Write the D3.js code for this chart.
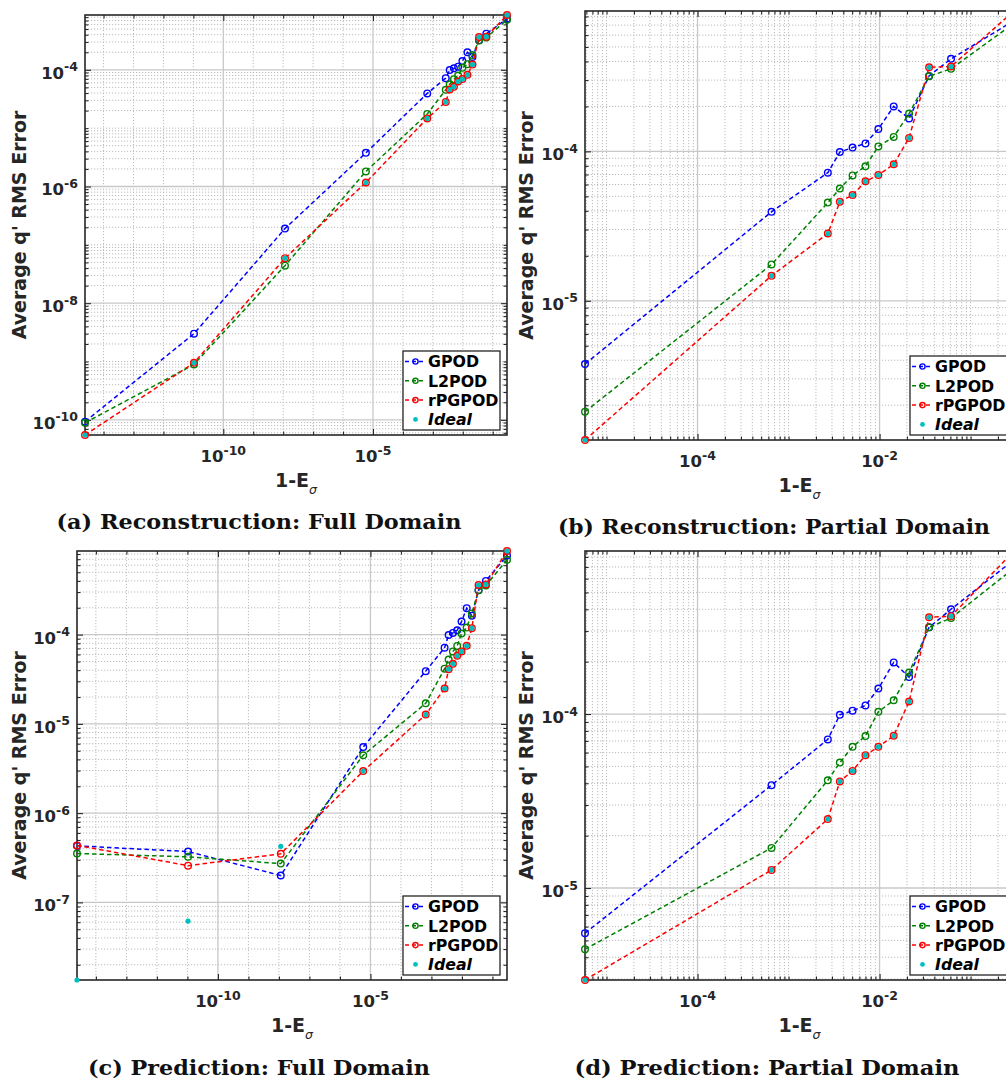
<!DOCTYPE html>
<html><head><meta charset="utf-8">
<script src="https://cdn.jsdelivr.net/npm/d3@7"></script>
<style>body{margin:0;background:#fff}</style>
</head><body>
<svg id="fig" width="1006" height="1082" xmlns="http://www.w3.org/2000/svg"></svg>
<script>
// ---------------- DATA ----------------
const energyLoss = [2.4e-15, 1.05e-11, 1.15e-8, 5.8e-6, 6.5e-4, 2.7e-3, 3.66e-3, 5.05e-3, 7.0e-3, 9.7e-3, 1.43e-2, 2.11e-2, 3.5e-2, 6.1e-2, 0.30];

const recGPOD   = [9.3e-11, 3.0e-9, 1.9e-7, 3.77e-6, 3.94e-5, 7.2e-5, 9.9e-5, 1.06e-4, 1.13e-4, 1.41e-4, 2.0e-4, 1.66e-4, 3.2e-4, 4.16e-4, 7.5e-4];
const recL2POD  = [8.9e-11, 8.9e-10, 4.4e-8, 1.81e-6, 1.75e-5, 4.54e-5, 5.64e-5, 6.9e-5, 7.95e-5, 1.08e-4, 1.25e-4, 1.79e-4, 3.18e-4, 3.57e-4, 7.2e-4];
const recRPGPOD = [5.5e-11, 9.5e-10, 5.9e-8, 1.17e-6, 1.47e-5, 2.82e-5, 4.6e-5, 5.1e-5, 6.3e-5, 6.95e-5, 8.2e-5, 1.23e-4, 3.65e-4, 3.7e-4, 8.7e-4];
const recIdeal  = [5.5e-11, 9.5e-10, 5.9e-8, 1.17e-6, 1.47e-5, 2.82e-5, 4.6e-5, 5.1e-5, 6.3e-5, 6.95e-5, 8.2e-5, 1.23e-4, 3.65e-4, 3.7e-4, 8.7e-4];

const predGPOD   = [4.3e-7, 3.71e-7, 2.0e-7, 5.5e-6, 3.9e-5, 7.15e-5, 9.9e-5, 1.045e-4, 1.12e-4, 1.4e-4, 1.98e-4, 1.63e-4, 3.15e-4, 4.0e-4, 7.7e-4];
const predL2POD  = [3.53e-7, 3.24e-7, 2.72e-7, 4.45e-6, 1.7e-5, 4.16e-5, 5.26e-5, 6.48e-5, 7.47e-5, 1.03e-4, 1.2e-4, 1.73e-4, 3.15e-4, 3.56e-4, 6.9e-4];
const predRPGPOD = [4.35e-7, 2.58e-7, 3.5e-7, 2.96e-6, 1.27e-5, 2.49e-5, 4.1e-5, 4.71e-5, 5.8e-5, 6.48e-5, 7.5e-5, 1.18e-4, 3.6e-4, 3.65e-4, 8.65e-4];
const predIdeal  = [1.35e-8, 6.17e-8, 4.25e-7, 2.96e-6, 1.27e-5, 2.49e-5, 4.1e-5, 4.71e-5, 5.8e-5, 6.48e-5, 7.5e-5, 1.18e-4, 3.6e-4, 3.65e-4, 8.65e-4];

const seriesNames = ["GPOD", "L2POD", "rPGPOD", "Ideal"];

const xTickExpFull    = [-10, -5];
const xTickExpPartial = [-4, -2];
const yTickExpA = [-10, -8, -6, -4];
const yTickExpB = [-5, -4];
const yTickExpC = [-7, -6, -5, -4];
const yTickExpD = [-5, -4];

const captions = ["(a) Reconstruction: Full Domain", "(b) Reconstruction: Partial Domain",
                  "(c) Prediction: Full Domain", "(d) Prediction: Partial Domain"];
const yLabelText = "Average q' RMS Error";

// ---------------- STYLE / LAYOUT ----------------
const colors = {GPOD: "#0000ff", L2POD: "#008000", rPGPOD: "#ff0000", Ideal: "#00bfbf"};
const AX = "#262626";

const panels = [
  {l: 85,  r: 507,  t: 15,  b: 435, start: 0, data: [recGPOD, recL2POD, recRPGPOD, recIdeal],
   xExp: xTickExpFull, xMinorMults: [1], yExp: yTickExpA, cap: captions[0], capX: 259, capY: 529, capW: 405, ylx: 26},
  {l: 585, r: 1014, t: 11,  b: 440, start: 3, data: [recGPOD, recL2POD, recRPGPOD, recIdeal],
   xExp: xTickExpPartial, xMinorMults: [1,2,3,4,5,6,7,8,9], yExp: yTickExpB, cap: captions[1], capX: 774, capY: 534, capW: 432, ylx: 533},
  {l: 77,  r: 507,  t: 551, b: 980, start: 0, data: [predGPOD, predL2POD, predRPGPOD, predIdeal],
   xExp: xTickExpFull, xMinorMults: [1], yExp: yTickExpC, cap: captions[2], capX: 259, capY: 1075, capW: 342, ylx: 26},
  {l: 585, r: 1014, t: 551, b: 980, start: 3, data: [predGPOD, predL2POD, predRPGPOD, predIdeal],
   xExp: xTickExpPartial, xMinorMults: [1,2,3,4,5,6,7,8,9], yExp: yTickExpD, cap: captions[3], capX: 767, capY: 1075, capW: 385, ylx: 533}
];

const svg = d3.select("#fig");
svg.append("rect").attr("width", 1006).attr("height", 1082).attr("fill", "#fff");

function minorValues(domain, mults, majorExps) {
  const lo = Math.floor(Math.log10(domain[0])), hi = Math.ceil(Math.log10(domain[1]));
  const out = [];
  for (let k = lo; k <= hi; k++) {
    for (const m of mults) {
      const v = m * Math.pow(10, k);
      if (v < domain[0] * 0.9999 || v > domain[1] * 1.0001) continue;
      if (m === 1 && majorExps.includes(k)) continue;
      out.push(v);
    }
  }
  return out;
}

function supLabel(sel, exp) {
  sel.append("tspan").text("10");
  sel.append("tspan").attr("dy", -7.5).attr("font-size", 12.5).text(String(exp));
}

function drawPanel(p) {
  const g = svg.append("g");
  const xs = energyLoss.slice(p.start);
  const ser = p.data.map(a => a.slice(p.start));
  const x = d3.scaleLog().domain(d3.extent(xs)).range([p.l, p.r]);
  const y = d3.scaleLog().domain(d3.extent(ser.flat())).range([p.b, p.t]);
  const xd = x.domain(), yd = y.domain();

  const xMaj = p.xExp.map(e => Math.pow(10, e));
  const yMaj = p.yExp.map(e => Math.pow(10, e));
  const xMin = minorValues(xd, p.xMinorMults, p.xExp);
  const yMin = minorValues(yd, [1,2,3,4,5,6,7,8,9], p.yExp);

  // minor grid (dotted)
  const grid = g.append("g");
  grid.selectAll(".gxm").data(xMin).join("line")
    .attr("x1", d => x(d)).attr("x2", d => x(d)).attr("y1", p.t).attr("y2", p.b)
    .attr("stroke", "#bcbcbc").attr("stroke-width", 1).attr("stroke-dasharray", "1.2,1.8");
  grid.selectAll(".gym").data(yMin).join("line")
    .attr("y1", d => y(d)).attr("y2", d => y(d)).attr("x1", p.l).attr("x2", p.r)
    .attr("stroke", "#bcbcbc").attr("stroke-width", 1).attr("stroke-dasharray", "1.2,1.8");
  // major grid (solid)
  grid.selectAll(".gxM").data(xMaj).join("line")
    .attr("x1", d => x(d)).attr("x2", d => x(d)).attr("y1", p.t).attr("y2", p.b)
    .attr("stroke", "#c8c8c8").attr("stroke-width", 1.3);
  grid.selectAll(".gyM").data(yMaj).join("line")
    .attr("y1", d => y(d)).attr("y2", d => y(d)).attr("x1", p.l).attr("x2", p.r)
    .attr("stroke", "#c8c8c8").attr("stroke-width", 1.3);

  // axes ticks (inward) on all four sides
  const styleAx = s => { s.select(".domain").remove(); s.selectAll("line").attr("stroke", AX).attr("stroke-width", 1.1); s.selectAll("text").remove(); };
  const mk = (fn, sc, vals, size, tr) => g.append("g").attr("transform", tr)
      .call(fn(sc).tickValues(vals).tickSize(size).tickFormat("")).call(styleAx);
  mk(d3.axisBottom, x, xMaj, -6, `translate(0,${p.b})`);
  mk(d3.axisTop, x, xMaj, -6, `translate(0,${p.t})`);
  mk(d3.axisBottom, x, xMin, -3.5, `translate(0,${p.b})`);
  mk(d3.axisTop, x, xMin, -3.5, `translate(0,${p.t})`);
  mk(d3.axisLeft, y, yMaj, -6, `translate(${p.l},0)`);
  mk(d3.axisRight, y, yMaj, -6, `translate(${p.r},0)`);
  mk(d3.axisLeft, y, yMin, -3.5, `translate(${p.l},0)`);
  mk(d3.axisRight, y, yMin, -3.5, `translate(${p.r},0)`);

  // box
  g.append("rect").attr("x", p.l).attr("y", p.t).attr("width", p.r - p.l).attr("height", p.b - p.t)
    .attr("fill", "none").attr("stroke", AX).attr("stroke-width", 1.6);

  // tick labels
  const fontTick = {"font-family": "DejaVu Sans, sans-serif", "font-weight": "bold", "font-size": 16.5, "fill": "#262626"};
  p.xExp.forEach(e => {
    const t = g.append("text").attr("x", x(Math.pow(10, e))).attr("y", p.b + 27).attr("text-anchor", "middle");
    Object.entries(fontTick).forEach(([k, v]) => t.attr(k, v));
    supLabel(t, e);
  });
  p.yExp.forEach(e => {
    const t = g.append("text").attr("x", p.l - 7).attr("y", y(Math.pow(10, e)) + 9).attr("text-anchor", "end");
    Object.entries(fontTick).forEach(([k, v]) => t.attr(k, v));
    supLabel(t, e);
  });

  // axis labels
  const xl = g.append("text").attr("x", (p.l + p.r) / 2).attr("y", p.b + 52).attr("text-anchor", "middle")
    .attr("font-family", "DejaVu Sans, sans-serif").attr("font-weight", "bold").attr("font-size", 19).attr("fill", "#262626");
  xl.append("tspan").text("1-E");
  xl.append("tspan").attr("dy", 7).attr("font-size", 12.5).attr("font-weight", "normal").attr("font-style", "italic").text("\u03c3");

  g.append("text").attr("transform", `translate(${p.ylx},${(p.t + p.b) / 2}) rotate(-90)`)
    .attr("text-anchor", "middle").attr("font-family", "DejaVu Sans, sans-serif").attr("font-weight", "bold")
    .attr("font-size", 19).attr("fill", "#262626").text(yLabelText);

  // data
  const pts = ser.map(a => a.map((v, i) => [xs[i], v]));
  const line = d3.line().x(d => x(d[0])).y(d => y(d[1]));
  [0, 1, 2].forEach(si => {
    const c = colors[seriesNames[si]];
    g.append("path").attr("d", line(pts[si])).attr("fill", "none").attr("stroke", c)
      .attr("stroke-width", 1.5).attr("stroke-dasharray", "4.5,3");
    g.selectAll(null).data(pts[si]).join("circle").attr("cx", d => x(d[0])).attr("cy", d => y(d[1]))
      .attr("r", 3.3).attr("fill", "none").attr("stroke", c).attr("stroke-width", 1.4);
  });
  g.selectAll(null).data(pts[3]).join("circle").attr("cx", d => x(d[0])).attr("cy", d => y(d[1]))
    .attr("r", 2.6).attr("fill", colors.Ideal);

  // legend
  const lw = 97, lh = 79;
  const lx = p.r - 7 - lw, ly = p.b - 5 - lh;
  const lg = g.append("g");
  lg.append("rect").attr("x", lx).attr("y", ly).attr("width", lw).attr("height", lh)
    .attr("fill", "#fff").attr("stroke", AX).attr("stroke-width", 1.3);
  seriesNames.forEach((nm, i) => {
    const cy = ly + 10.5 + i * 19.3;
    const c = colors[nm];
    if (i < 3) {
      lg.append("line").attr("x1", lx + 2).attr("x2", lx + 23).attr("y1", cy).attr("y2", cy)
        .attr("stroke", c).attr("stroke-width", 1.5).attr("stroke-dasharray", "4,3");
      lg.append("circle").attr("cx", lx + 12.5).attr("cy", cy).attr("r", 2.6).attr("fill", "none")
        .attr("stroke", c).attr("stroke-width", 1.4);
    } else {
      lg.append("circle").attr("cx", lx + 12.5).attr("cy", cy).attr("r", 2.4).attr("fill", c);
    }
    lg.append("text").attr("x", lx + 25).attr("y", cy + 5.7)
      .attr("font-family", "DejaVu Sans, sans-serif").attr("font-weight", "bold")
      .attr("font-style", i === 3 ? "italic" : "normal").attr("font-size", 15.8).attr("fill", "#000").text(nm);
  });

  // caption
  svg.append("text").attr("x", p.capX).attr("y", p.capY).attr("text-anchor", "middle")
    .attr("font-family", "DejaVu Serif, serif").attr("font-weight", "bold").attr("font-size", 20)
    .attr("textLength", p.capW).attr("lengthAdjust", "spacingAndGlyphs").attr("fill", "#111").text(p.cap);
}

panels.forEach(drawPanel);
</script>
</body></html>
